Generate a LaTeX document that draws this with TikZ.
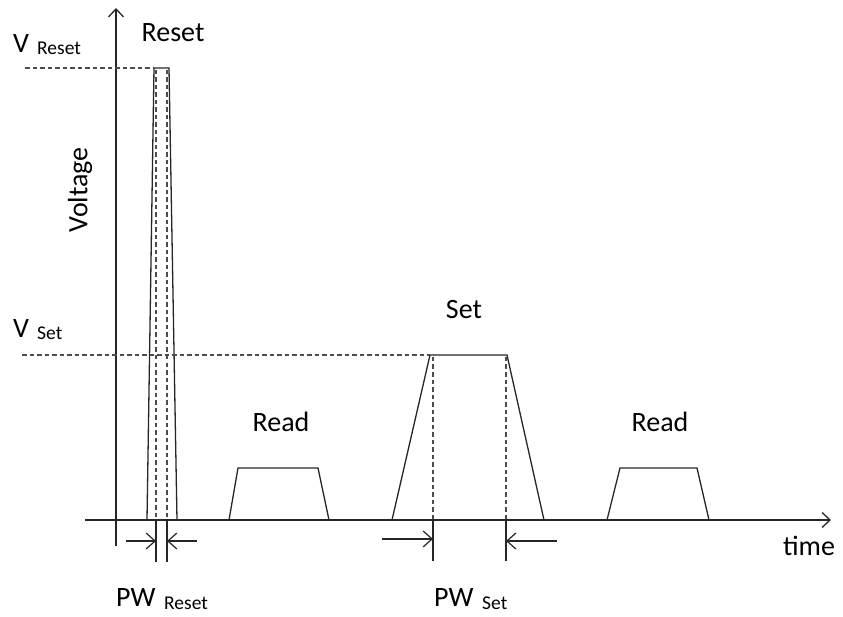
\documentclass[tikz,border=0pt]{standalone}
\usepackage{fontspec}
\setmainfont{Carlito}
\usetikzlibrary{arrows.meta}
\begin{document}
\begin{tikzpicture}[x=1pt,y=-1pt,
  ln/.style={line width=1.3pt,black!85},
  dsh/.style={line width=1.2pt,black!70,dash pattern=on 4.5pt off 3pt},
  ax/.style={line width=1.3pt,black!85,-{Straight Barb[length=8pt,width=15pt]}},
  dim/.style={line width=1.2pt,black!85,-{Straight Barb[length=9pt,width=16pt]}},
  lbl/.style={font=\fontsize{28}{30}\selectfont,inner sep=0pt},
  sub/.style={font=\fontsize{19.5}{22}\selectfont,inner sep=0pt}]
\useasboundingbox (0,0) rectangle (843,617);
% axes
\coordinate (yb) at (116,546);
\coordinate (yt) at (116,8);
\coordinate (xl) at (85,520);
\coordinate (xr) at (831,520);
\draw[ax] (yb) -- (yt);
\draw[ax] (xl) -- (xr);
% reset pulse
\draw[ln] (147,520) -- (154,68) -- (169,68) -- (177,520);
\draw[dsh] (25,68) -- (154,68);
\draw[dsh] (156,70) -- (156,520);
\draw[dsh] (167,70) -- (167,520);
\draw[ln] (156,520) -- (156,562);
\draw[ln] (167,520) -- (167,562);
\draw[dim] (126,541) -- (156,541);
\draw[dim] (197,541) -- (167,541);
% read pulses
\draw[ln] (229,520) -- (238,468) -- (318,468) -- (329,520);
\draw[ln] (607,520) -- (620,468) -- (697,468) -- (709,520);
% set pulse
\draw[ln] (392,520) -- (430,355) -- (507,355) -- (544,520);
\draw[dsh] (22,355) -- (430,355);
\draw[dsh] (433,357) -- (433,520);
\draw[dsh] (506,357) -- (506,520);
\draw[ln] (433,520) -- (433,561);
\draw[ln] (506,520) -- (506,561);
\draw[dim] (382,539) -- (433,539);
\draw[dim] (557,541) -- (506,541);
% labels
\node[lbl] (reset) at (173,33) {Reset};
\node[lbl,anchor=base west] (vr) at (13,53) {V};
\node[sub,anchor=base west] (vrs) at (37,55) {Reset};
\node[lbl,anchor=base west] (vs) at (13,338) {V};
\node[sub,anchor=base west] (vss) at (37,340) {Set};
\node[lbl,rotate=90] (volt) at (80,190) {Voltage};
\node[lbl] (set) at (464,310) {Set};
\node[lbl] (read1) at (281,422) {Read};
\node[lbl] (read2) at (660,422) {Read};
\node[lbl] (time) at (809,546) {time};
\node[lbl,anchor=base west] (pw1) at (116,606) {PW};
\node[sub,anchor=base west] (pw1s) at (164,609) {Reset};
\node[lbl,anchor=base west] (pw2) at (434,606) {PW};
\node[sub,anchor=base west] (pw2s) at (482,609) {Set};
\end{tikzpicture}
\end{document}
